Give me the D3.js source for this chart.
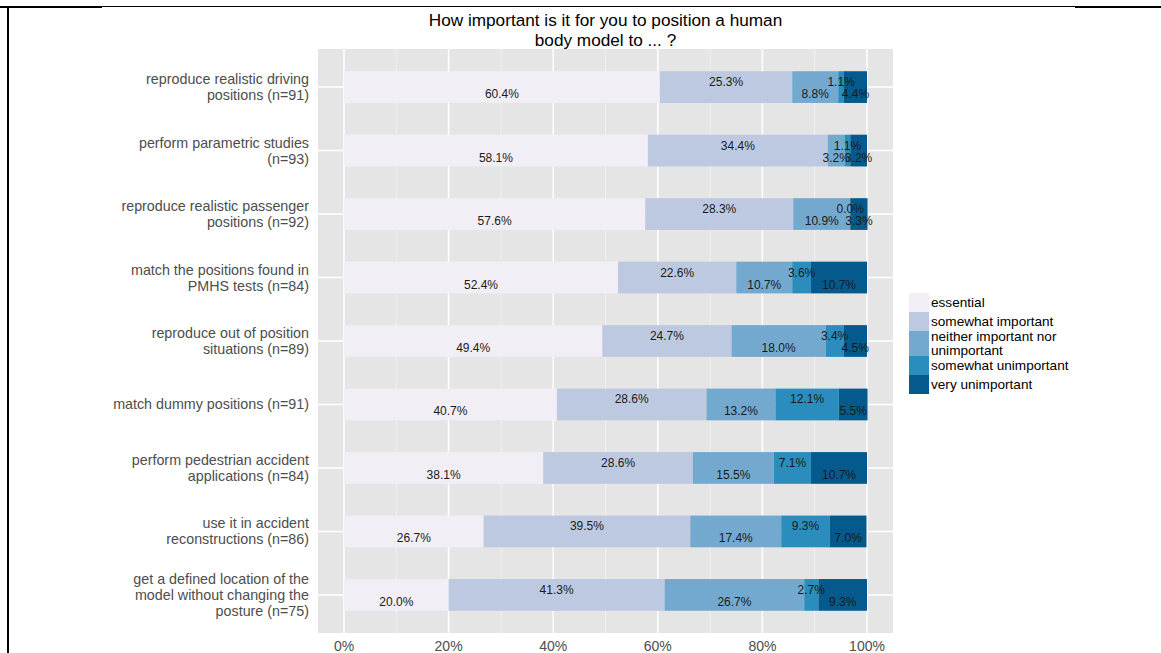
<!DOCTYPE html>
<html>
<head>
<meta charset="utf-8">
<script src="https://cdn.jsdelivr.net/npm/d3@7"></script>
<style>
html,body{margin:0;padding:0;background:#fff;}
svg{display:block;font-family:"Liberation Sans",Arial,sans-serif;}
</style>
</head>
<body>
<svg id="chart" width="1161" height="653"></svg>
<script>
const categories = [
  ["reproduce realistic driving","positions (n=91)"],
  ["perform parametric studies","(n=93)"],
  ["reproduce realistic passenger","positions (n=92)"],
  ["match the positions found in","PMHS tests (n=84)"],
  ["reproduce out of position","situations (n=89)"],
  ["match dummy positions (n=91)"],
  ["perform pedestrian accident","applications (n=84)"],
  ["use it in accident","reconstructions (n=86)"],
  ["get a defined location of the","model without changing the","posture (n=75)"]
];
const levels = ["essential","somewhat important","neither important nor unimportant","somewhat unimportant","very unimportant"];
const legendLabels = [["essential"],["somewhat important"],["neither important nor","unimportant"],["somewhat unimportant"],["very unimportant"]];
const essential            = [60.4,58.1,57.6,52.4,49.4,40.7,38.1,26.7,20.0];
const somewhatImportant    = [25.3,34.4,28.3,22.6,24.7,28.6,28.6,39.5,41.3];
const neither              = [8.8, 3.2, 10.9,10.7,18.0,13.2,15.5,17.4,26.7];
const somewhatUnimportant  = [1.1, 1.1, 0.0, 3.6, 3.4, 12.1,7.1, 9.3, 2.7];
const veryUnimportant      = [4.4, 3.2, 3.3, 10.7,4.5, 5.5, 10.7,7.0, 9.3];
const colors = ["#f1eef6","#bdc9e1","#74a9cf","#2b8cbe","#045a8d"];
const xTicks = [0,20,40,60,80,100];
const xMinor = [10,30,50,70,90];
const titleLines = ["How important is it for you to position a human","body model to ... ?"];

const series = [essential,somewhatImportant,neither,somewhatUnimportant,veryUnimportant];
const svg = d3.select("#chart");

// frame
svg.append("line").attr("x1",0).attr("x2",1161).attr("y1",6.5).attr("y2",6.5).attr("stroke","#000").attr("stroke-width",1);
svg.append("rect").attr("x",0).attr("y",6).attr("width",102).attr("height",2).attr("fill","#000");
svg.append("rect").attr("x",1075).attr("y",6).attr("width",86).attr("height",2).attr("fill","#000");
svg.append("rect").attr("x",7).attr("y",6).attr("width",2).attr("height",647).attr("fill","#000");

const panel = {left:318, right:893, top:49, bottom:633};
const x = d3.scaleLinear().domain([0,100]).range([344,867]);
const y = d3.scalePoint().domain(d3.range(categories.length)).range([panel.top,panel.bottom]).padding(0.6);
const bandH = y.step()*0.5;

svg.append("rect").attr("x",panel.left).attr("y",panel.top)
  .attr("width",panel.right-panel.left).attr("height",panel.bottom-panel.top).attr("fill","#e5e5e5");

// grid
svg.selectAll(".minor").data(xMinor).enter().append("line")
  .attr("x1",d=>x(d)).attr("x2",d=>x(d)).attr("y1",panel.top).attr("y2",panel.bottom)
  .attr("stroke","#f2f2f2").attr("stroke-width",0.8);
svg.selectAll(".major").data(xTicks).enter().append("line")
  .attr("x1",d=>x(d)).attr("x2",d=>x(d)).attr("y1",panel.top).attr("y2",panel.bottom)
  .attr("stroke","#ffffff").attr("stroke-width",1.5);
svg.selectAll(".hmajor").data(d3.range(categories.length)).enter().append("line")
  .attr("x1",panel.left).attr("x2",panel.right).attr("y1",d=>y(d)).attr("y2",d=>y(d))
  .attr("stroke","#ffffff").attr("stroke-width",1.5);

// stacked bars
const rows = categories.map((c,i)=>{
  let acc = 0;
  return series.map((s,k)=>{ const v = s[i]; const seg = {i,k,x0:acc,x1:acc+v,v}; acc += v; return seg; });
});
const segs = rows.flat();
svg.selectAll(".bar").data(segs).enter().append("rect")
  .attr("x",d=>x(d.x0)).attr("width",d=>Math.max(0,x(d.x1)-x(d.x0)))
  .attr("y",d=>y(d.i)-bandH/2).attr("height",bandH)
  .attr("fill",d=>colors[d.k]);

svg.selectAll(".lbl").data(segs).enter().append("text")
  .attr("x",d=>x((d.x0+d.x1)/2))
  .attr("y",d=>y(d.i) + (d.k%2===0 ? 11 : -1))
  .attr("text-anchor","middle").attr("font-size",12).attr("fill","#1a1a1a")
  .text(d=>d.v.toFixed(1)+"%");

// y labels
const yl = svg.selectAll(".ylab").data(categories).enter().append("text")
  .attr("text-anchor","end").attr("font-size",14.3).attr("fill","#4d4d4d");
yl.each(function(lines,i){
  const n = lines.length;
  const t = d3.select(this);
  lines.forEach((ln,j)=>{
    t.append("tspan").attr("x",309).attr("y", y(i) + (j-(n-1)/2)*16 + 5).text(ln);
  });
});

// x labels
svg.selectAll(".xlab").data(xTicks).enter().append("text")
  .attr("x",d=>x(d)).attr("y",651).attr("text-anchor","middle")
  .attr("font-size",14).attr("fill","#4d4d4d").text(d=>d+"%");

// title
svg.selectAll(".title").data(titleLines).enter().append("text")
  .attr("x",(panel.left+panel.right)/2).attr("y",(d,i)=>26+i*20)
  .attr("text-anchor","middle").attr("font-size",17.2).attr("fill","#000").text(d=>d);

// legend
const keyH = [19,19,25,19,19];
let ly = 293;
legendLabels.forEach((lines,k)=>{
  svg.append("rect").attr("x",909).attr("y",ly).attr("width",20).attr("height",keyH[k]).attr("fill",colors[k]);
  const t = svg.append("text").attr("font-size",13.6).attr("fill","#000");
  lines.forEach((ln,j)=>{
    t.append("tspan").attr("x",931).attr("y", ly + keyH[k]/2 + 4.5 + (j-(lines.length-1)/2)*14).text(ln);
  });
  ly += keyH[k];
});
</script>
</body>
</html>
